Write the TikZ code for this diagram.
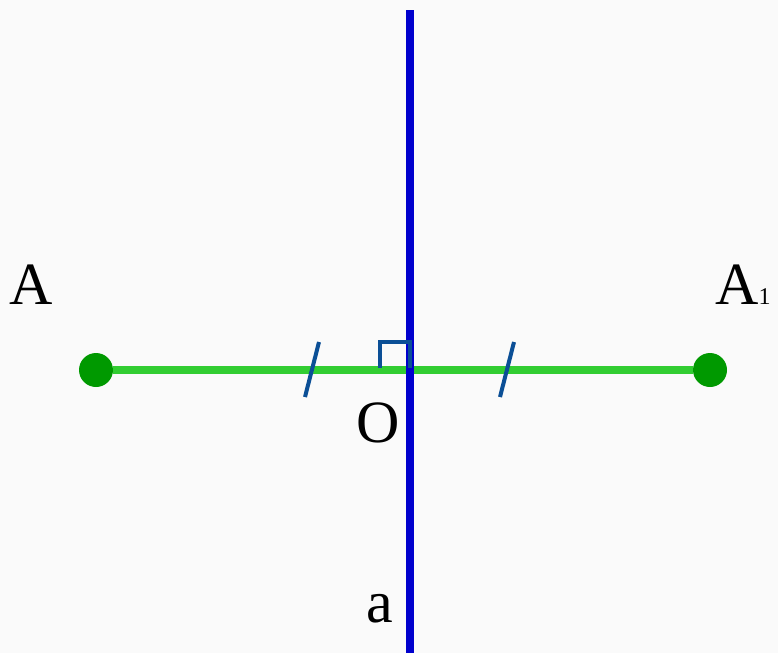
\documentclass[tikz,border=0pt]{standalone}
\usepackage{fontspec}
\setmainfont{Liberation Serif}
\definecolor{bgc}{RGB}{250,250,250}
\definecolor{axisblue}{RGB}{0,0,205}
\definecolor{seggreen}{RGB}{50,205,50}
\definecolor{dotgreen}{RGB}{0,153,0}
\definecolor{markblue}{RGB}{11,79,150}
\begin{document}
\begin{tikzpicture}[x=1pt,y=-1pt,
  dot/.style={circle,fill=dotgreen,inner sep=0pt,minimum size=34pt},
  lbl/.style={inner sep=0pt,anchor=base west,font=\fontsize{60}{60}\selectfont},
  markline/.style={draw=markblue,line width=4pt}]
\fill[bgc] (0,0) rectangle (778,653);
\useasboundingbox (0,0) rectangle (778,653);
\node[dot] (A) at (96,370) {};
\node[dot] (A1) at (710,370) {};
\coordinate (top) at (410,10);
\coordinate (bot) at (410,653);
\coordinate (O) at (410,370);
\draw[seggreen,line width=8pt] (A) -- (A1);
\draw[axisblue,line width=8pt] (top) -- (bot);
\draw[markline] (380,368) -- (380,342) -- (410,342) -- (410,368);
\coordinate (t1a) at (305,397);
\coordinate (t1b) at (319,342);
\coordinate (t2a) at (500,397);
\coordinate (t2b) at (514,342);
\draw[markline] (t1a) -- (t1b);
\draw[markline] (t2a) -- (t2b);
\node[lbl] (la) at (9,304) {A};
\node[lbl] (la1) at (715,304) {A{\fontsize{24}{24}\selectfont 1}};
\node[lbl] (lo) at (356,442) {O};
\node[lbl] (lx) at (366,622) {a};
\end{tikzpicture}
\end{document}
